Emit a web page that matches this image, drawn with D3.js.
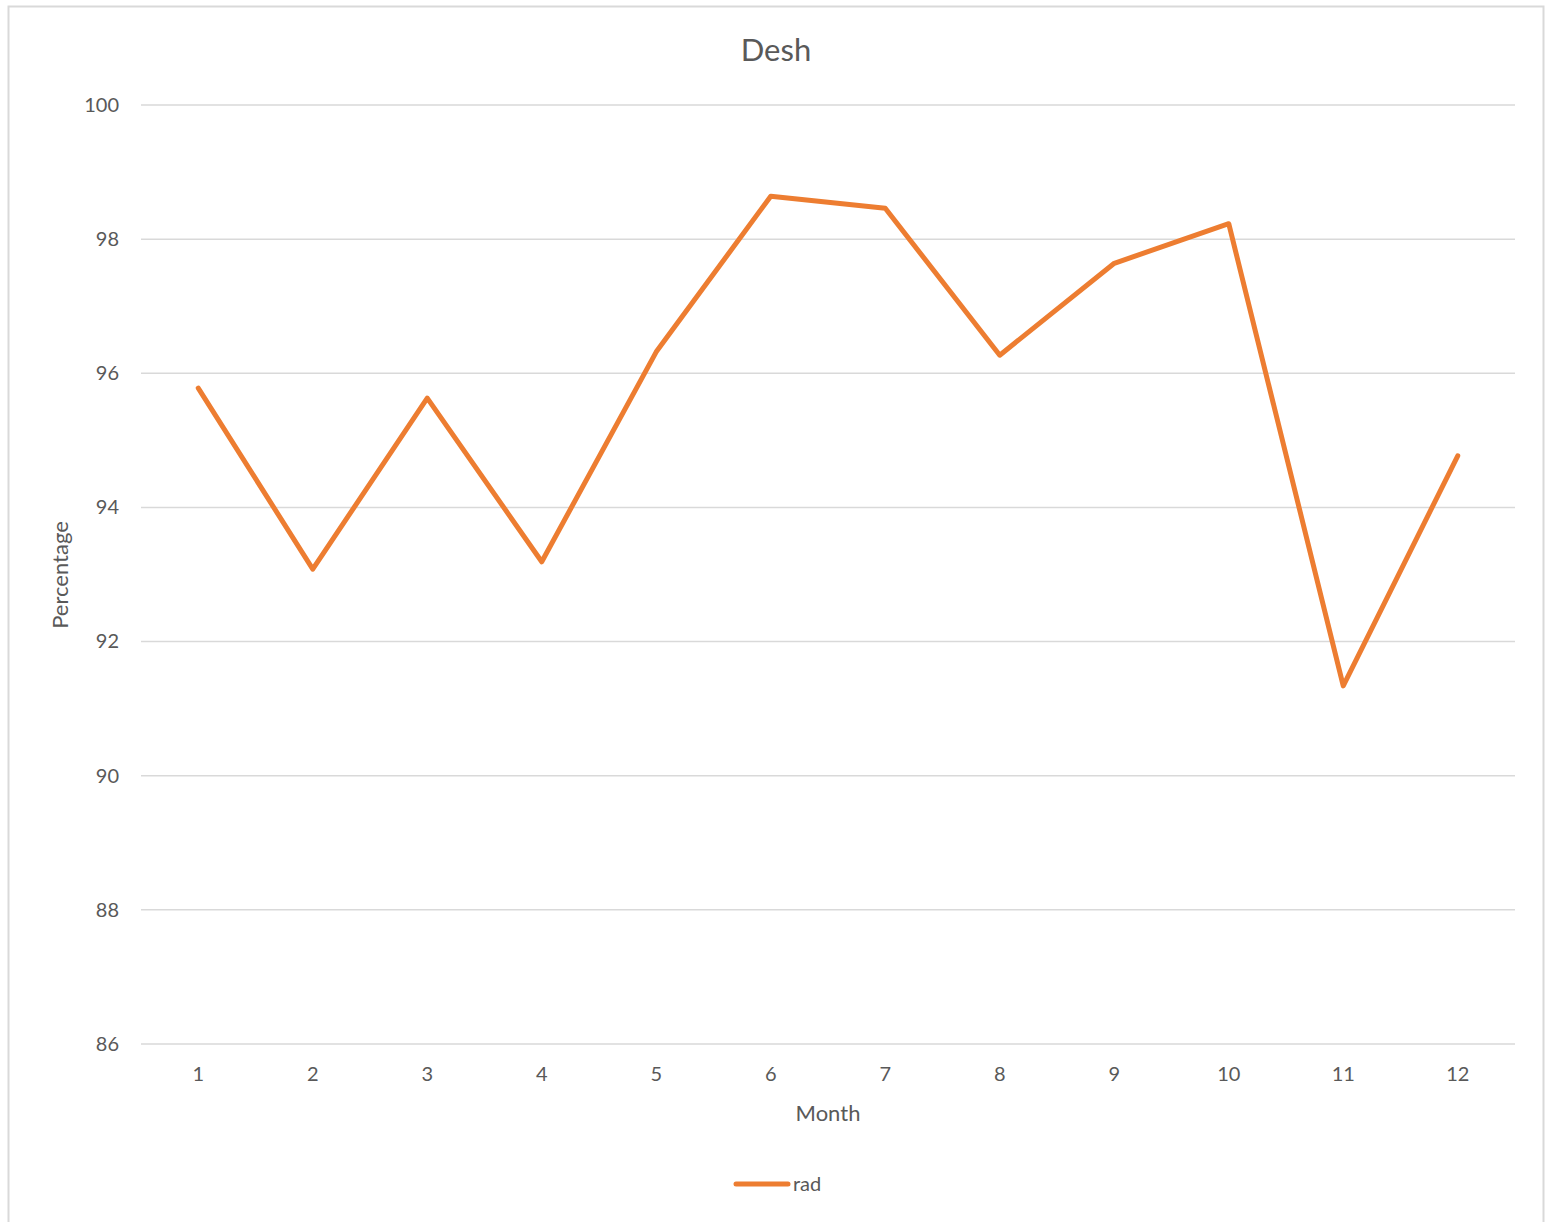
<!DOCTYPE html>
<html><head><meta charset="utf-8">
<script src="https://cdn.jsdelivr.net/npm/d3@7"></script>
<style>html,body{margin:0;padding:0;background:#fff;}svg{display:block;}</style>
</head><body>
<script>
const months = ["1","2","3","4","5","6","7","8","9","10","11","12"];
const rad = [95.78, 93.08, 95.63, 93.19, 96.32, 98.64, 98.46, 96.27, 97.64, 98.23, 91.34, 94.77];
const yTicks = [86, 88, 90, 92, 94, 96, 98, 100];
const chartTitle = "Desh";
const xTitle = "Month";
const yTitle = "Percentage";
const seriesName = "rad";

(function () {
const W = 1550, H = 1222;
const font = "Lato, 'Open Sans', sans-serif";
const textColor = "#595959";
const svg = d3.select("body").append("svg").attr("width", W).attr("height", H);
svg.append("rect").attr("width", W).attr("height", H).attr("fill", "#fff");
svg.append("rect").attr("x", 8.5).attr("y", 6.5).attr("width", 1535).attr("height", 1230)
  .attr("fill", "none").attr("stroke", "#d9d9d9").attr("stroke-width", 2);

const pL = 141, pR = 1515, pT = 105, pB = 1044;
const x = d3.scaleBand().domain(months).range([pL, pR]);
const y = d3.scaleLinear().domain([86, 100]).range([pB, pT]);

const grid = svg.append("g");
grid.selectAll("line").data(yTicks).join("line")
  .attr("x1", pL).attr("x2", pR)
  .attr("y1", d => y(d)).attr("y2", d => y(d))
  .attr("stroke", "#d9d9d9").attr("stroke-width", 1.5);

const yAxis = svg.append("g").attr("transform", `translate(${pL},0)`)
  .call(d3.axisLeft(y).tickValues(yTicks).tickSize(0).tickPadding(22));
yAxis.select(".domain").remove();
yAxis.selectAll("text").attr("font-family", font).attr("font-size", 20).attr("fill", textColor);

const xAxis = svg.append("g").attr("transform", `translate(0,${pB})`)
  .call(d3.axisBottom(x).tickSize(0).tickPadding(23));
xAxis.select(".domain").remove();
xAxis.selectAll("text").attr("font-family", font).attr("font-size", 20).attr("fill", textColor);

const line = d3.line().x((d, i) => x(months[i]) + x.bandwidth() / 2).y(d => y(d));
svg.append("path").datum(rad).attr("d", line)
  .attr("fill", "none").attr("stroke", "#ED7D31").attr("stroke-width", 5)
  .attr("stroke-linejoin", "round").attr("stroke-linecap", "round");

svg.append("text").attr("x", 776).attr("y", 61).attr("text-anchor", "middle")
  .attr("font-family", font).attr("font-size", 31).attr("fill", textColor).text(chartTitle);
svg.append("text").attr("x", 828).attr("y", 1121).attr("text-anchor", "middle")
  .attr("font-family", font).attr("font-size", 22).attr("fill", textColor).text(xTitle);
svg.append("text").attr("transform", "translate(68,575) rotate(-90)").attr("text-anchor", "middle")
  .attr("font-family", font).attr("font-size", 22).attr("fill", textColor).text(yTitle);

svg.append("line").attr("x1", 736).attr("x2", 788).attr("y1", 1184).attr("y2", 1184)
  .attr("stroke", "#ED7D31").attr("stroke-width", 5).attr("stroke-linecap", "round");
svg.append("text").attr("x", 793).attr("y", 1191)
  .attr("font-family", font).attr("font-size", 20).attr("fill", textColor).text(seriesName);
})();
</script>
</body></html>
